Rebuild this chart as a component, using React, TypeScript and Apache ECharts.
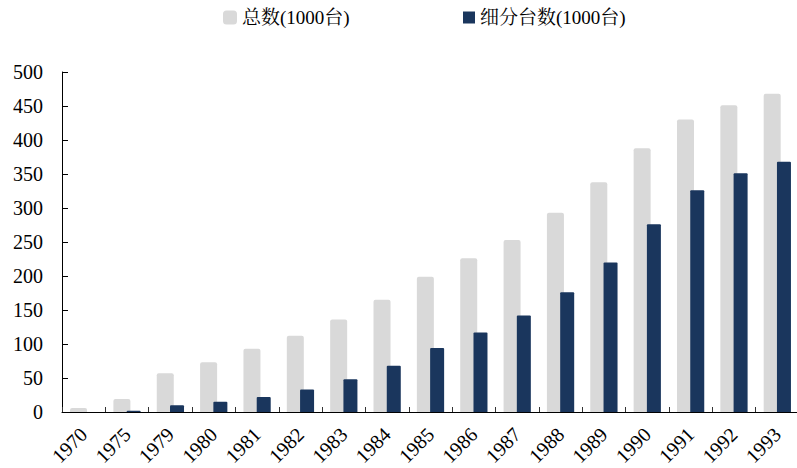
import React, { useEffect, useRef } from "react";
import * as echarts from "echarts";

// Years on the category axis
const years = [
  "1970", "1975", "1979", "1980", "1981", "1982", "1983", "1984", "1985",
  "1986", "1987", "1988", "1989", "1990", "1991", "1992", "1993",
];

// Total units (thousands)
const totalUnits = [6, 19, 57, 73, 93, 112, 136, 165, 199, 226, 253, 293, 338, 388, 430, 451, 468];

// Segment units (thousands)
const segmentUnits = [0, 2, 10, 15, 22, 33, 48, 68, 94, 117, 142, 176, 220, 276, 326, 351, 368];

const totalName = "总数(1000台)";
const segmentName = "细分台数(1000台)";

const SERIF = "'Liberation Serif', 'Times New Roman', 'Noto Serif CJK SC', 'Noto Sans CJK SC', serif";
const GRAY = "#D9D9D9";
const NAVY = "#1A365D";

export default function App() {
  const ref = useRef<HTMLDivElement>(null);

  useEffect(() => {
    if (!ref.current) return;
    const chart = echarts.init(ref.current, undefined, { renderer: "svg" });

    const legendText = { fontFamily: SERIF, fontSize: 19, color: "#000" };

    chart.setOption({
      animation: false,
      backgroundColor: "#fff",
      legend: [
        {
          data: [totalName],
          left: 218,
          top: 3,
          itemWidth: 14,
          itemHeight: 14,
          itemGap: 4,
          textStyle: legendText,
          icon: "roundRect",
        },
        {
          data: [segmentName],
          left: 458,
          top: 3,
          itemWidth: 12,
          itemHeight: 12,
          itemGap: 4,
          textStyle: legendText,
          icon: "rect",
        },
      ],
      grid: {
        left: 62,
        top: 72,
        width: 737,
        height: 340,
        containLabel: false,
        outerBoundsMode: "none",
      },
      xAxis: {
        type: "category",
        data: years,
        axisLine: { lineStyle: { color: "#000", width: 1 } },
        axisTick: { show: true, inside: true, length: 5, lineStyle: { color: "#333" } },
        axisLabel: {
          rotate: 45,
          margin: 19,
          fontFamily: SERIF,
          fontSize: 20,
          color: "#000",
          interval: 0,
        },
        splitLine: { show: false },
      },
      yAxis: {
        type: "value",
        min: 0,
        max: 500,
        interval: 50,
        axisLine: { show: true, lineStyle: { color: "#000", width: 1 } },
        axisTick: { show: true, inside: true, length: 6, lineStyle: { color: "#000" } },
        axisLabel: { margin: 19, fontFamily: SERIF, fontSize: 20, color: "#000" },
        splitLine: { show: false },
      },
      series: [
        {
          name: totalName,
          type: "bar",
          data: totalUnits,
          barWidth: 17,
          barGap: "-22%",
          itemStyle: { color: GRAY, borderRadius: [2, 2, 0, 0] },
        },
        {
          name: segmentName,
          type: "bar",
          data: segmentUnits,
          barWidth: 14,
          itemStyle: { color: NAVY, borderRadius: [1, 1, 0, 0] },
        },
      ],
    });

    return () => chart.dispose();
  }, []);

  return <div ref={ref} style={{ width: 797, height: 468, position: "absolute", left: 0, top: 0 }} />;
}
